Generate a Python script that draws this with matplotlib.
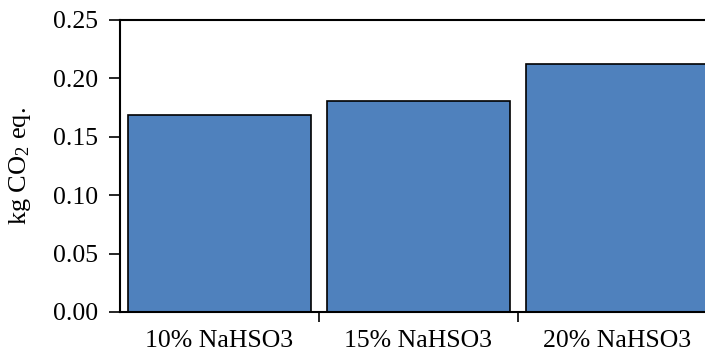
import matplotlib
matplotlib.use("Agg")
import matplotlib.pyplot as plt
from matplotlib.ticker import FormatStrFormatter

categories = ["10% NaHSO3", "15% NaHSO3", "20% NaHSO3"]
valeurs = [0.169, 0.181, 0.212]

plt.rcParams["font.family"] = ["Liberation Serif"]
plt.rcParams["mathtext.fontset"] = "custom"
plt.rcParams["mathtext.rm"] = "Liberation Serif"
plt.rcParams["mathtext.it"] = "Liberation Serif:italic"

fig = plt.figure(figsize=(7.05, 3.53), dpi=100)
# l'axe depasse a droite de l'image, comme dans l'original
ax = fig.add_axes([120 / 705, 1 - 312 / 353, 597 / 705, 292 / 353])

x = range(len(categories))
ax.bar(x, valeurs, width=0.915, color="#4F81BD", edgecolor="black", linewidth=1.2)

ax.set_xlim(-0.5, len(categories) - 0.5)
ax.set_ylim(0, 0.25)
ax.set_yticks([0, 0.05, 0.10, 0.15, 0.20, 0.25])
ax.yaxis.set_major_formatter(FormatStrFormatter("%.2f"))

# ticks entre les categories
ax.set_xticks([0.5, 1.5], minor=False)
ax.set_xticklabels([])
ax.set_xticks(list(x), minor=True)
ax.set_xticklabels(categories, minor=True)
ax.tick_params(axis="x", which="minor", length=0, pad=13, labelsize=18.5)
ax.tick_params(axis="x", which="major", direction="out", length=7, width=1.2)
ax.tick_params(axis="y", direction="out", length=8, width=1.2, labelsize=18.5, pad=8)

for s in ["left", "bottom", "top"]:
    ax.spines[s].set_linewidth(1.5)
ax.spines["right"].set_visible(False)

ax.set_ylabel(r"kg CO$_2$ eq.", fontsize=19, labelpad=14)

fig.savefig("out.png", dpi=100)
